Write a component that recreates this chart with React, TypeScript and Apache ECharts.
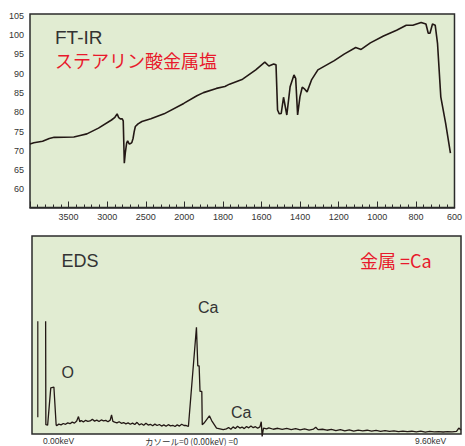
import React, { useEffect, useRef } from 'react';
import * as echarts from 'echarts';

// FT-IR spectrum (wavenumber cm-1, transmittance %)
const irWavenumbers = [
  4000, 3950, 3837, 3750, 3687, 3432, 3350, 3263, 3113, 2944, 2900, 2871, 2850, 2830, 2805, 2792,
  2778, 2765, 2748, 2735, 2715, 2695, 2680, 2665, 2650, 2635, 2600, 2550, 2434, 2263, 2008, 1935,
  1901, 1834, 1790, 1766, 1698, 1630, 1583, 1562, 1537, 1525, 1517, 1508, 1498, 1486, 1469, 1452,
  1432, 1423, 1413, 1401, 1389, 1376, 1364, 1341, 1308, 1223, 1172, 1112, 1084, 1036, 968, 900,
  850, 816, 773, 748, 736, 727, 714, 700, 688, 671, 646, 621,
];
const irTransmittance = [
  71.8, 72.1, 72.5, 73.2, 73.5, 73.6, 74.0, 74.4, 75.9, 78.0, 78.7, 79.6, 78.6, 78.3, 78.3, 77.8,
  66.8, 69.5, 72.0, 72.6, 71.8, 71.9, 72.2, 73.2, 75.0, 76.3, 77.0, 77.6, 78.3, 79.6, 82.3, 84.3,
  85.1, 86.2, 86.7, 87.3, 88.6, 91.0, 93.0, 92.0, 92.5, 92.3, 80.6, 79.6, 79.7, 83.9, 79.3, 86.6,
  89.7, 88.8, 79.3, 84.0, 86.5, 86.0, 85.3, 88.4, 91.0, 93.4, 95.1, 96.8, 96.3, 98.0, 99.8, 101.3,
  102.6, 102.6, 103.3, 102.9, 100.5, 100.5, 102.9, 102.6, 97.9, 84.0, 77.2, 69.4,
];
const irYLabels = [60, 65, 70, 75, 80, 85, 90, 95, 100, 105];

// EDS spectrum (keV, counts in arbitrary units)
const edsEnergy = [
  0.305, 0.31, 0.35, 0.42, 0.49, 0.54,
  0.55, 0.6, 0.65, 0.7, 0.75, 0.8, 0.85, 0.9, 0.95, 1.0, 1.04, 1.07, 1.1, 1.15, 1.2, 1.25, 1.3,
  1.35, 1.4, 1.45, 1.5, 1.55, 1.6, 1.65, 1.7, 1.75, 1.78, 1.81, 1.85, 1.9, 1.95, 2.0, 2.05, 2.1,
  2.15, 2.2, 2.25, 2.3, 2.35, 2.4, 2.45, 2.5, 2.55, 2.6, 2.65, 2.7, 2.75, 2.8, 2.85, 2.9, 2.95,
  3.0, 3.05, 3.1, 3.15, 3.2, 3.25, 3.3, 3.35, 3.4, 3.44,
  3.5, 3.68, 3.71, 3.74, 3.76, 3.8, 3.81, 3.85, 3.97, 4.02, 4.13, 4.28,
  4.35, 4.4, 4.45, 4.5, 4.55, 4.6, 4.65, 4.7, 4.75, 4.8, 4.85, 4.9, 4.95, 5.0, 5.05, 5.1, 5.13,
  5.15, 5.18, 5.25, 5.3, 5.4, 5.5, 5.6, 5.7, 5.8, 5.9, 6.0, 6.1, 6.2, 6.3, 6.35, 6.4, 6.5, 6.6,
  6.7, 6.8, 6.9, 7.0, 7.1, 7.2, 7.3, 7.4, 7.5, 7.6, 7.7, 7.8, 7.9, 8.0, 8.1, 8.2, 8.3, 8.4, 8.5,
  8.6, 8.7, 8.8, 8.9, 9.0, 9.1, 9.2, 9.3, 9.4, 9.5, 9.55, 9.6,
];
const edsCounts = [
  57, 4.7, 4.5, 23.3, 23.7, 4.7,
  4.2, 5.0, 4.6, 5.3, 4.9, 5.6, 5.2, 6.0, 5.5, 6.6, 8.8, 6.2, 6.8, 6.1, 6.9, 6.4, 6.6,
  7.4, 6.5, 7.0, 6.3, 7.1, 6.6, 6.9, 6.2, 7.0, 9.6, 6.4, 6.0, 5.6, 6.2, 5.4, 5.8, 5.1,
  5.6, 4.9, 5.5, 4.8, 5.9, 4.6, 5.2, 4.4, 5.4, 4.5, 4.9, 4.2, 5.0, 4.3, 4.8, 4.0, 4.6,
  3.9, 4.7, 4.1, 4.4, 3.8, 4.6, 4.0, 4.9, 4.3, 4.4,
  3.8, 53.9, 34.4, 34.4, 21.5, 21.5, 4.7, 5.5, 9.2, 6.8, 3.0, 2.2,
  2.6, 3.3, 2.4, 3.6, 2.8, 3.9, 3.0, 3.5, 2.7, 3.8, 3.1, 4.0, 3.2, 3.7, 2.9, 3.6, 6.2,
  -1.2, 3.0, 2.6, 3.1, 2.4, 2.9, 2.3, 2.8, 2.2, 2.7, 2.1, 2.6, 2.0, 2.5, 3.4, 2.2, 2.4, 1.9,
  2.3, 1.7, 2.2, 1.6, 2.1, 1.5, 2.0, 1.6, 1.9, 1.4, 1.8, 1.3, 1.7, 1.3, 1.6, 1.2, 1.5, 1.2, 1.4,
  1.1, 1.4, 1.0, 1.3, 1.1, 1.2, 1.0, 1.2, 1.1, 1.3, 3.0, 2.0,
];
const cursorEnergy = [0.13, 0.13];
const cursorCounts = [8.5, 57];

// FT-IR axis: the region above 2000 cm-1 is compressed by 2.5x
const toAxis = (wn: number) => (wn <= 2000 ? wn : 2000 + (wn - 2000) / 2.5);
const fromAxis = (v: number) => (v <= 2000 ? v : 2000 + (v - 2000) * 2.5);

const BG = '#e1ecd2';
const INK = '#231815';
const RED = '#e8192c';
const LATIN = '"Liberation Sans", Arial, "Noto Sans CJK JP", sans-serif';
const JP = '"Noto Sans CJK JP", "Liberation Sans", sans-serif';

export default function App() {
  const ref = useRef<HTMLDivElement>(null);
  useEffect(() => {
    const chart = echarts.init(ref.current!, null, { renderer: 'svg' });
    const irData = irWavenumbers.map((w, i) => [toAxis(w), irTransmittance[i]]);
    const edsData = edsEnergy.map((e, i) => [e, edsCounts[i]]);
    const cursorData = cursorEnergy.map((e, i) => [e, cursorCounts[i]]);
    chart.setOption({
      animation: false,
      grid: [
        { left: 30, top: 14, width: 431, height: 193.5, show: true, backgroundColor: BG, borderColor: '#2b2b2b', borderWidth: 1.5 },
        { left: 32, top: 236, width: 429, height: 198, show: true, backgroundColor: BG, borderColor: '#2b2b2b', borderWidth: 1.5 },
      ],
      xAxis: [
        {
          gridIndex: 0, type: 'value', min: 600, max: 2800, interval: 200, inverse: true,
          axisLine: { show: true, lineStyle: { color: '#2b2b2b', width: 1.5 } },
          axisTick: { show: true, inside: true, length: 6, lineStyle: { color: '#2b2b2b', width: 1 } },
          minorTick: { show: true, splitNumber: 5, length: 3, lineStyle: { color: '#2b2b2b', width: 1 } },
          splitLine: { show: false },
          axisLabel: {
            show: true, margin: 5, fontSize: 9, color: '#333', fontFamily: LATIN,
            showMinLabel: true, showMaxLabel: true, hideOverlap: false,
            formatter: (v: number) => (v >= 2800 ? '' : String(Math.round(fromAxis(v)))),
          },
        },
        {
          gridIndex: 1, type: 'value', min: 0, max: 9.6,
          axisLine: { show: false }, axisTick: { show: false }, axisLabel: { show: false }, splitLine: { show: false },
        },
      ],
      yAxis: [
        {
          gridIndex: 0, type: 'value', min: 55.3, max: 105.5,
          axisLine: { show: false }, axisTick: { show: false }, splitLine: { show: false },
          axisLabel: { show: true, customValues: irYLabels, margin: 6, fontSize: 9, color: '#333', fontFamily: LATIN },
        },
        {
          gridIndex: 1, type: 'value', min: 0, max: 100,
          axisLine: { show: false }, axisTick: { show: false }, axisLabel: { show: false }, splitLine: { show: false },
        },
      ],
      series: [
        {
          type: 'line', xAxisIndex: 0, yAxisIndex: 0, data: irData, showSymbol: false, symbol: 'none',
          lineStyle: { color: INK, width: 1.6 }, smooth: false,
        },
        {
          type: 'line', xAxisIndex: 1, yAxisIndex: 1, data: edsData, showSymbol: false, symbol: 'none',
          lineStyle: { color: INK, width: 1.3 }, clip: false,
        },
        {
          type: 'line', xAxisIndex: 1, yAxisIndex: 1, data: cursorData, showSymbol: false, symbol: 'none',
          lineStyle: { color: INK, width: 1.2 },
        },
      ],
      graphic: [
        { type: 'text', x: 55, y: 37, style: { text: 'FT-IR', fontSize: 19, fontFamily: LATIN, fill: '#333', verticalAlign: 'middle' } },
        { type: 'text', x: 55, y: 59.5, style: { text: 'ステアリン酸金属塩', fontSize: 18, fontFamily: JP, fill: RED, verticalAlign: 'middle' } },
        { type: 'text', x: 61.5, y: 261, style: { text: 'EDS', fontSize: 18, fontFamily: LATIN, fill: '#333', verticalAlign: 'middle' } },
        { type: 'text', x: 360, y: 260, style: { text: '金属 =Ca', fontSize: 18, fontFamily: JP, fill: RED, verticalAlign: 'middle' } },
        { type: 'text', x: 198, y: 307.5, style: { text: 'Ca', fontSize: 16, fontFamily: LATIN, fill: '#333', verticalAlign: 'middle' } },
        { type: 'text', x: 61.5, y: 372.5, style: { text: 'O', fontSize: 16, fontFamily: LATIN, fill: '#333', verticalAlign: 'middle' } },
        { type: 'text', x: 231, y: 412.5, style: { text: 'Ca', fontSize: 16, fontFamily: LATIN, fill: '#333', verticalAlign: 'middle' } },
        { type: 'text', x: 43, y: 441, style: { text: '0.00keV', fontSize: 8.5, fontFamily: LATIN, fill: '#333', verticalAlign: 'middle' } },
        { type: 'text', x: 145, y: 441, style: { text: 'カソール=0 (0.00keV) =0', fontSize: 8.5, fontFamily: JP, fill: '#333', verticalAlign: 'middle' } },
        { type: 'text', x: 415, y: 441, style: { text: '9.60keV', fontSize: 8.5, fontFamily: LATIN, fill: '#333', verticalAlign: 'middle' } },
      ],
    });
    return () => chart.dispose();
  }, []);
  return <div ref={ref} style={{ position: 'absolute', left: 0, top: 0, width: 465, height: 446 }} />;
}
